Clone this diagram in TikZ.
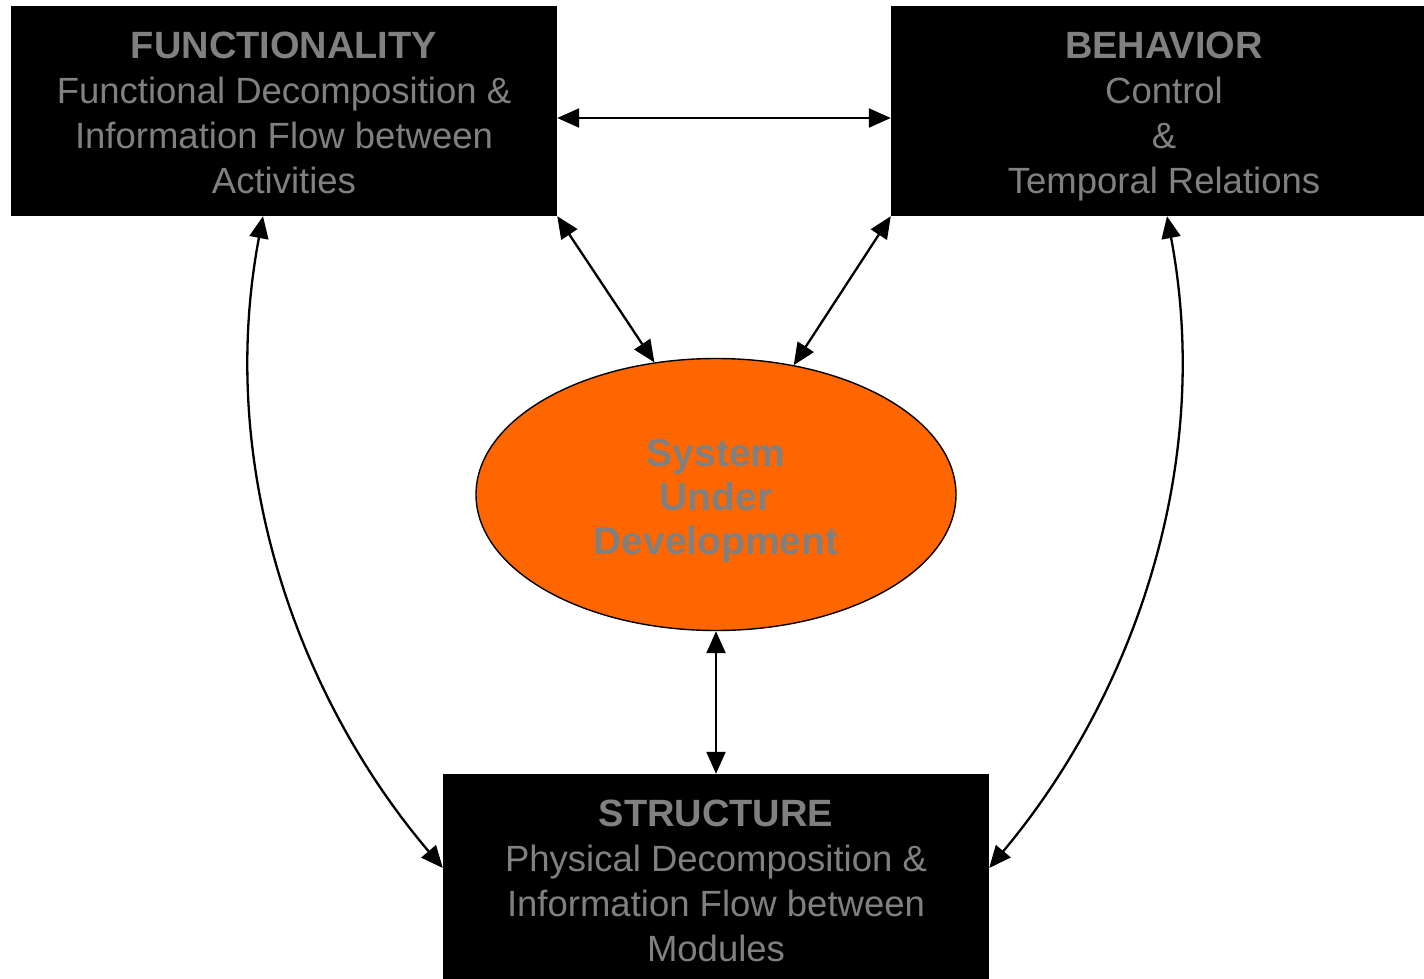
\documentclass[tikz,border=0pt]{standalone}
\usepackage{fontspec}
\setmainfont{Liberation Sans}
\usetikzlibrary{arrows.meta,shapes.geometric}
\definecolor{txtgray}{HTML}{808080}
\definecolor{sysorange}{HTML}{FF6600}
% struts that give every text block the same first-line height and last-line depth
\newcommand{\firststrut}[1]{\rule{0pt}{#1}}
\newcommand{\laststrut}{\rule[-8pt]{0pt}{8pt}}
\newcommand{\boxtitle}[1]{{\fontsize{38}{45}\selectfont\bfseries\firststrut{37pt}#1}}
\begin{document}
\begin{tikzpicture}[x=1pt,y=-1pt,
  blk/.style={fill=black, text=txtgray, minimum width=546pt, minimum height=210pt,
    inner sep=0pt, align=center, font=\fontsize{36.5}{45}\selectfont},
  sysnode/.style={ellipse, draw=black, line width=1.4pt, fill=sysorange, text=txtgray,
    minimum width=480pt, minimum height=272pt, inner sep=0pt, align=center,
    font=\fontsize{39}{44}\selectfont\bfseries},
  arr/.style={line width=2.3pt, {Triangle[length=22pt,width=19pt]}-{Triangle[length=22pt,width=19pt]}}]
\clip (0,0) rectangle (1424,978);
\fill[white] (0,0) rectangle (1424,978);

% the three viewpoints
\node[blk] (func) at (284,111)
  {\boxtitle{FUNCTIONALITY}\\Functional Decomposition \&\\Information Flow between\\Activities\laststrut};
\node[blk] (beh) at (1164,111)
  {\boxtitle{BEHAVIOR}\\Control\\\&\\Temporal Relations\laststrut};
\node[blk] (str) at (716,879)
  {\boxtitle{STRUCTURE}\\Physical Decomposition \&\\Information Flow between\\Modules\laststrut};

% the system in the middle
\node[sysnode] (sud) at (716,494.5) {\firststrut{40pt}System\\Under\\Development};

% relations
\draw[arr] ([yshift=-7pt]func.east) -- ([yshift=-7pt]beh.west);
\draw[arr] (func.south east) -- (sud.115.5);
\draw[arr] (beh.south west) -- (sud.59);
\draw[arr] (sud.south) -- (str.north);
\draw[arr] ([xshift=-21pt]func.south) .. controls (215,470) and (300,700) .. ([yshift=11pt]str.west);
\draw[arr] ([xshift=3pt]beh.south) .. controls (1215,470) and (1130,700) .. ([yshift=11pt]str.east);
\end{tikzpicture}
\end{document}
